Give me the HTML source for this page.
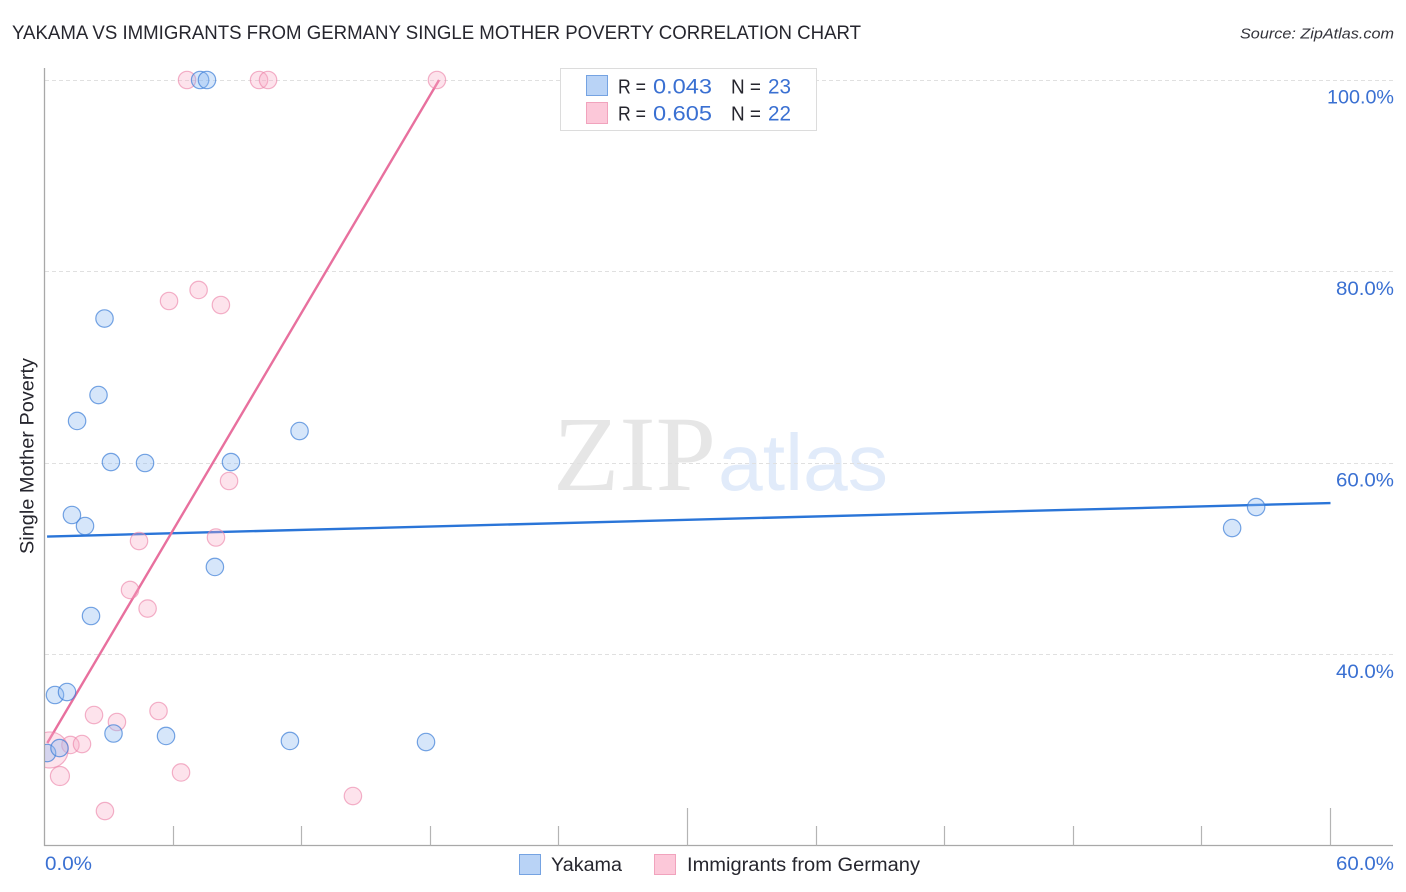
<!DOCTYPE html>
<html lang="en">
<head>
<meta charset="utf-8">
<title>Yakama vs Immigrants from Germany Single Mother Poverty Correlation Chart</title>
<style>
html,body{margin:0;padding:0;background:#fff;}
svg{display:block;font-family:"Liberation Sans",sans-serif;}
</style>
</head>
<body>
<svg id="chart" xmlns="http://www.w3.org/2000/svg" width="1406" height="892" viewBox="0 0 1406 892">
  <defs>
    <clipPath id="plot-clip"><rect x="45" y="60" width="1349" height="785"/></clipPath>
  </defs>
  <text x="12" y="39" font-size="19" fill="#26262e" textLength="849" lengthAdjust="spacingAndGlyphs">YAKAMA VS IMMIGRANTS FROM GERMANY SINGLE MOTHER POVERTY CORRELATION CHART</text>
  <text x="1394" y="38.5" font-size="15" font-style="italic" fill="#33333b" text-anchor="end" textLength="154" lengthAdjust="spacingAndGlyphs">Source: ZipAtlas.com</text>

  <g>
    <text x="553" y="490" font-family="'Liberation Serif',serif" font-size="107" fill="#e6e6e6" textLength="163" lengthAdjust="spacingAndGlyphs">ZIP</text>
    <text x="718" y="490" font-size="80" fill="#e1ebfa" textLength="170" lengthAdjust="spacingAndGlyphs">atlas</text>
  </g>

  <g id="grid"></g>
  <g id="axes"></g>
  <g id="lines" clip-path="url(#plot-clip)"></g>
  <g id="points" clip-path="url(#plot-clip)"></g>
  <g id="labels"></g>

  <text transform="translate(33.5,554) rotate(-90)" font-size="19" fill="#26262e" textLength="196" lengthAdjust="spacingAndGlyphs">Single Mother Poverty</text>

  <g>
    <rect x="560.5" y="68.5" width="256" height="62" fill="#fff" stroke="#dcdcdc" stroke-width="1"/>
    <rect x="586.5" y="75.5" width="21" height="20" fill="#b9d3f6" stroke="#75a3e2" stroke-width="1"/>
    <rect x="586.5" y="102.5" width="21" height="21" fill="#fcc8d9" stroke="#f1a3bd" stroke-width="1"/>
    <text x="618" y="93.5" font-size="20" fill="#26262e" textLength="28" lengthAdjust="spacingAndGlyphs">R =</text>
    <text x="653" y="93.5" font-size="21" fill="#3a70d2" textLength="59" lengthAdjust="spacingAndGlyphs">0.043</text>
    <text x="731" y="93.5" font-size="20" fill="#26262e" textLength="30" lengthAdjust="spacingAndGlyphs">N =</text>
    <text x="768" y="93.5" font-size="21" fill="#3a70d2" textLength="23" lengthAdjust="spacingAndGlyphs">23</text>
    <text x="618" y="120.5" font-size="20" fill="#26262e" textLength="28" lengthAdjust="spacingAndGlyphs">R =</text>
    <text x="653" y="120.5" font-size="21" fill="#3a70d2" textLength="59" lengthAdjust="spacingAndGlyphs">0.605</text>
    <text x="731" y="120.5" font-size="20" fill="#26262e" textLength="30" lengthAdjust="spacingAndGlyphs">N =</text>
    <text x="768" y="120.5" font-size="21" fill="#3a70d2" textLength="23" lengthAdjust="spacingAndGlyphs">22</text>
  </g>

  <g>
    <rect x="519.5" y="854.5" width="21" height="20" fill="#b9d3f6" stroke="#75a3e2" stroke-width="1"/>
    <text x="551" y="871" font-size="19" fill="#26262e" textLength="71" lengthAdjust="spacingAndGlyphs">Yakama</text>
    <rect x="654.5" y="854.5" width="21" height="20" fill="#fcc8d9" stroke="#f1a3bd" stroke-width="1"/>
    <text x="687" y="871" font-size="19" fill="#26262e" textLength="233" lengthAdjust="spacingAndGlyphs">Immigrants from Germany</text>
  </g>
</svg>
<script>
const yTickValues = [100, 80, 60, 40];
const yTickLabels = ["100.0%", "80.0%", "60.0%", "40.0%"];
const xTickValues = [0, 6, 12, 18, 24, 30, 36, 42, 48, 54, 60];
const xMajorTicks = [30, 60];
const xTickLabels = ["0.0%", "60.0%"];

const yakamaX = [0.12, 0.70, 0.49, 1.05, 2.17, 1.89, 1.28, 1.52, 2.52, 2.80, 3.10, 4.69, 8.70, 7.95, 11.90, 3.22, 5.67, 11.45, 17.80, 55.41, 56.53, 7.26, 7.58];
const yakamaY = [29.71, 30.23, 35.77, 36.08, 44.02, 53.42, 54.57, 64.39, 67.10, 75.09, 60.10, 60.00, 60.10, 49.14, 63.34, 31.75, 31.49, 30.97, 30.86, 53.21, 55.40, 100, 100];

const germanyX = [6.65, 10.01, 10.43, 18.31, 5.81, 7.19, 8.23, 8.61, 8.00, 4.41, 3.99, 4.81, 5.32, 2.31, 3.38, 1.21, 1.75, 0.72, 6.37, 2.82, 14.39, 0.26];
const germanyY = [100, 100, 100, 100, 76.92, 78.07, 76.50, 58.12, 52.22, 51.85, 46.74, 44.80, 34.10, 33.68, 32.95, 30.55, 30.65, 27.31, 27.68, 23.65, 25.22, 30.03];
const germanyWeight = [1, 1, 1, 1, 1, 1, 1, 1, 1, 1, 1, 1, 1, 1, 1, 1, 1, 1.2, 1, 1, 1, 4.3];

const yakamaTrendX = [0.12, 60];
const yakamaTrendY = [52.32, 55.82];
const germanyTrendX = [0.13, 18.41];
const germanyTrendY = [30.76, 100];

const NS = "http://www.w3.org/2000/svg";
const xScale = v => 44.5 + v * (1286 / 60);
const yScale = v => 80 + (100 - v) * 9.575;
const AXIS_BOTTOM = 845.5;
const BASE_R = 8.7;

function make(parent, tag, attrs) {
  const el = document.createElementNS(NS, tag);
  for (const k in attrs) el.setAttribute(k, attrs[k]);
  parent.appendChild(el);
  return el;
}

const grid = document.getElementById("grid");
const axes = document.getElementById("axes");
const lines = document.getElementById("lines");
const points = document.getElementById("points");
const labels = document.getElementById("labels");

yTickValues.forEach((v, i) => {
  const y = Math.floor(yScale(v)) + 0.5;
  const line = make(grid, "line", {x1: 45, x2: 1393, y1: y, y2: y, stroke: "#e0e0e0", "stroke-width": 1, "stroke-dasharray": "4 3"});
  
  
  const t = make(labels, "text", {x: 1394, y: yScale(v) + 23.6, "font-size": 19.5, fill: "#3a70d2", "text-anchor": "end"});
  t.textContent = yTickLabels[i];
  t.setAttribute('textLength', i === 0 ? 67 : 58);
  t.setAttribute('lengthAdjust', 'spacingAndGlyphs');
  
  
});

const yAxis = make(axes, "line", {x1: 44.5, x2: 44.5, y1: 68, y2: 846, stroke: "#a8a8a8", "stroke-width": 1.3});


const xAxis = make(axes, "line", {x1: 44, x2: 1393, y1: AXIS_BOTTOM, y2: AXIS_BOTTOM, stroke: "#a8a8a8", "stroke-width": 1.3});



xTickValues.forEach(v => {
  if (v === 0) return;
  const x = Math.floor(xScale(v)) + 0.5;
  const top = xMajorTicks.includes(v) ? 808 : 826;
  const tick = make(axes, "line", {x1: x, x2: x, y1: top, y2: AXIS_BOTTOM, stroke: "#b4b4b4", "stroke-width": 1.2});
  
  
});

const xLabelLeft = make(labels, "text", {x: xScale(0) + 0.5, y: 870, "font-size": 19.5, fill: "#3a70d2", textLength: 47, lengthAdjust: "spacingAndGlyphs"});
xLabelLeft.textContent = xTickLabels[0];


const xLabelRight = make(labels, "text", {x: 1394, y: 870, "font-size": 19.5, fill: "#3a70d2", "text-anchor": "end", textLength: 58, lengthAdjust: "spacingAndGlyphs"});
xLabelRight.textContent = xTickLabels[1];



germanyX.forEach((v, i) => {
  const c = make(points, "circle", {cx: xScale(v), cy: yScale(germanyY[i]), r: BASE_R * Math.sqrt(germanyWeight[i]), fill: "rgba(249,170,198,0.33)", stroke: "rgba(236,130,168,0.62)", "stroke-width": 1.2});
  
  
});

yakamaX.forEach((v, i) => {
  const c = make(points, "circle", {cx: xScale(v), cy: yScale(yakamaY[i]), r: BASE_R, fill: "rgba(140,185,240,0.36)", stroke: "rgba(60,125,215,0.7)", "stroke-width": 1.2});
  
  
});

const yakamaLine = make(lines, "line", {x1: xScale(yakamaTrendX[0]), y1: yScale(yakamaTrendY[0]), x2: xScale(yakamaTrendX[1]), y2: yScale(yakamaTrendY[1]), stroke: "#2a75d8", "stroke-width": 2.4});


const germanyLine = make(lines, "line", {x1: xScale(germanyTrendX[0]), y1: yScale(germanyTrendY[0]), x2: xScale(germanyTrendX[1]), y2: yScale(germanyTrendY[1]), stroke: "#e8709e", "stroke-width": 2.4});


</script>
</body>
</html>
